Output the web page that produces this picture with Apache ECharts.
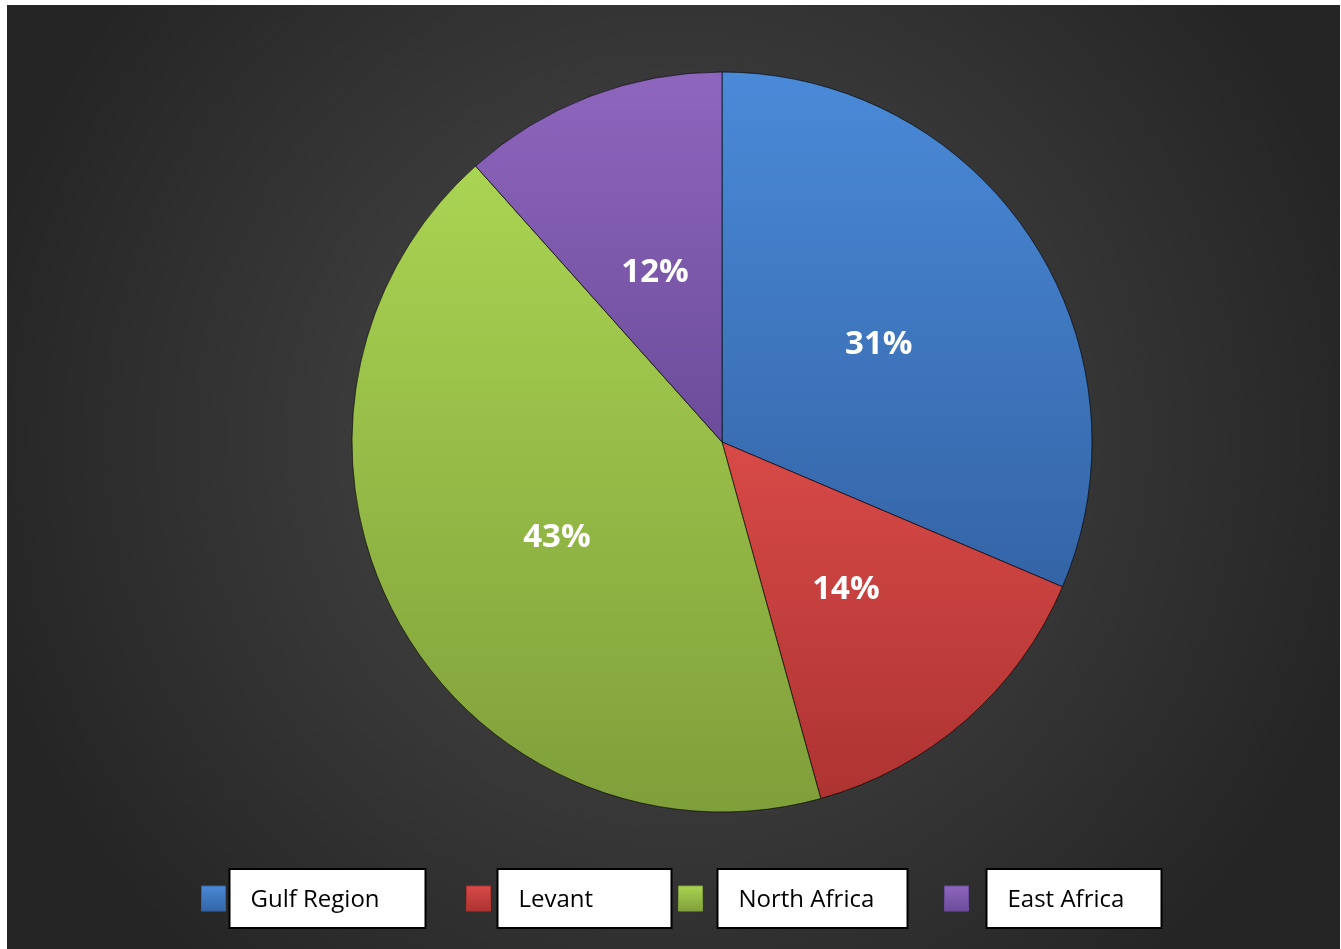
<!DOCTYPE html>
<html>
<head>
<meta charset="utf-8">
<script src="https://cdn.jsdelivr.net/npm/echarts@6/dist/echarts.min.js"></script>
<style>
  html, body { margin: 0; padding: 0; background: #fff; }
  #main { position: absolute; left: 7px; top: 5px; width: 1333px; height: 944px; }
</style>
</head>
<body>
<div id="main"></div>
<script>
var regions = ['Gulf Region', 'Levant', 'North Africa', 'East Africa'];
var shares = [31.4, 14.3, 42.7, 11.6];
var topColors = ['#4a8ad8', '#d84a48', '#aad452', '#8e66be'];
var bottomColors = ['#3464a6', '#ad3331', '#7f9f3a', '#6c4c9a'];
// legend placement: icon left, gap before white box, box width
var legendLeft = [194, 459, 671, 937];
var legendGap = [0, 3, 11, 14];
var legendBoxW = [196, 174, 190, 175];

function grad(i) {
    return new echarts.graphic.LinearGradient(0, 0, 0, 1, [
        { offset: 0, color: topColors[i] },
        { offset: 1, color: bottomColors[i] }
    ]);
}

var myChart = echarts.init(document.getElementById('main'));

var legends = regions.map(function (name, i) {
    return {
        data: [name],
        left: legendLeft[i],
        top: 863,
        padding: 0,
        selectedMode: false,
        itemWidth: 24,
        itemHeight: 25,
        icon: 'rect',
        itemStyle: {
            color: grad(i),
            borderColor: bottomColors[i],
            borderWidth: 1
        },
        formatter: function (n) {
            return (legendGap[i] ? '{s|}' : '') + '{b|' + n + '}';
        },
        textStyle: {
            rich: {
                s: { width: legendGap[i], height: 10 },
                b: {
                    color: '#000',
                    fontFamily: 'Open Sans',
                    fontSize: 24,
                    backgroundColor: '#fff',
                    borderColor: '#000',
                    borderWidth: 2,
                    padding: [17, 0, 13, 20],
                    width: legendBoxW[i] - 22,
                    height: 27,
                    lineHeight: 27
                }
            }
        }
    };
});

myChart.setOption({
    backgroundColor: {
        type: 'radial',
        x: 0.5, y: 0.46, r: 0.75,
        colorStops: [
            { offset: 0, color: '#4c4c4c' },
            { offset: 1, color: '#252525' }
        ]
    },
    legend: legends,
    series: [{
        type: 'pie',
        center: [715, 437],
        radius: [0, 370],
        startAngle: 90,
        clockwise: true,
        percentPrecision: 0,
        label: {
            position: 'inside',
            formatter: '{d}%',
            color: '#fff',
            fontFamily: 'Open Sans',
            fontWeight: 'bold',
            fontSize: 33,
            offset: [0, 6]
        },
        labelLine: { show: false },
        emphasis: { disabled: true },
        itemStyle: {
            borderColor: 'rgba(0,0,0,0.35)',
            borderWidth: 1
        },
        data: regions.map(function (name, i) {
            return { name: name, value: shares[i], itemStyle: { color: grad(i) } };
        })
    }]
});
</script>
</body>
</html>
